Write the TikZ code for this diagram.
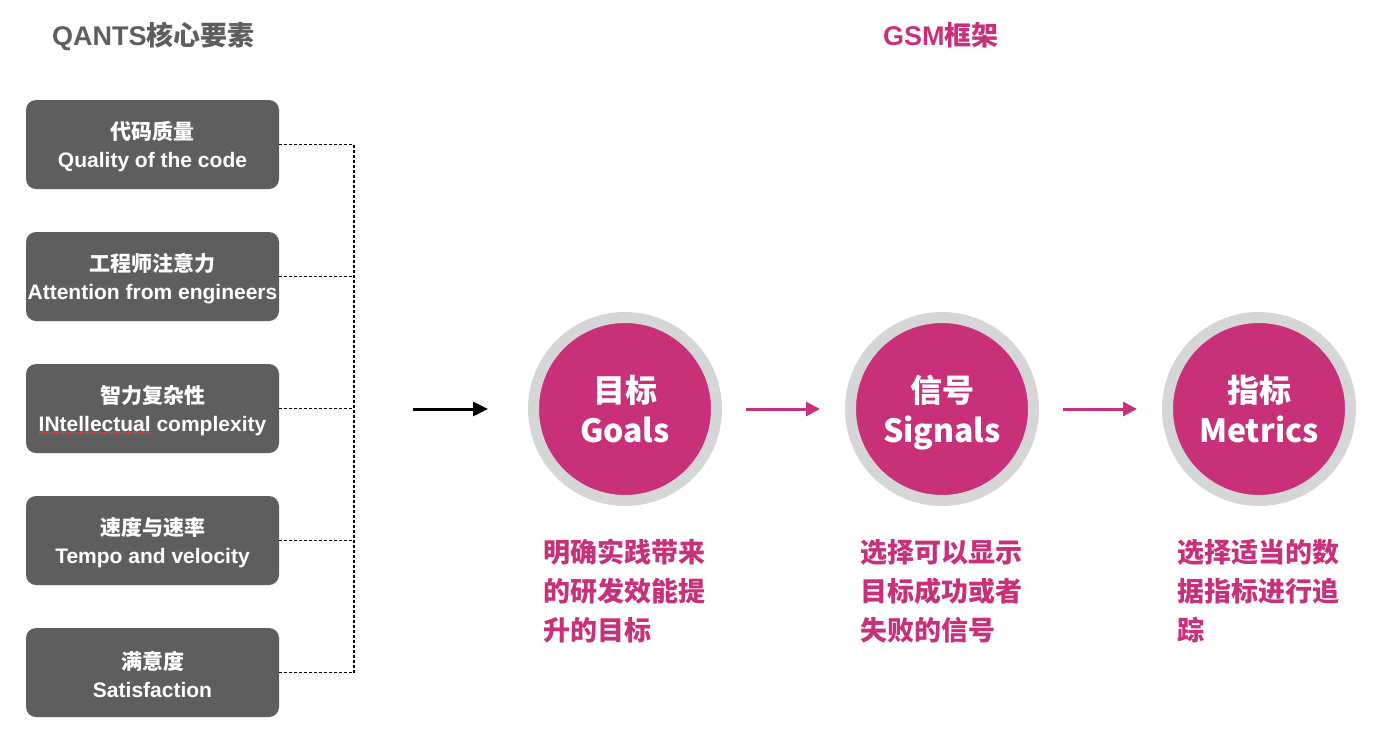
\documentclass[tikz,border=0pt]{standalone}
\usepackage{fontspec}
\setmainfont{Liberation Sans}
\newfontfamily\cjk{Noto Sans CJK SC}
\usetikzlibrary{arrows.meta}
\definecolor{boxgray}{HTML}{5E5E5E}
\definecolor{mag}{HTML}{C8307A}
\definecolor{ring}{HTML}{D6D6D6}
\definecolor{squig}{HTML}{E0403A}
\newcommand{\topstrut}{\rule{0pt}{22.5pt}}
\tikzset{
  qbox/.style={rounded corners=10pt, fill=boxgray, minimum width=253pt, minimum height=89pt,
    inner sep=0pt, text=white, align=center, font=\bfseries\fontsize{21}{28}\selectfont},
  dashline/.style={draw=black, line width=1.8pt, dash pattern=on 3pt off 2pt},
  gsm/.style={circle, draw=ring, line width=11pt, fill=mag, minimum size=183pt, inner sep=0pt,
    text=white, align=center, font=\cjk\bfseries\fontsize{32}{40}\selectfont},
  pinkarrow/.style={draw=mag, line width=3pt, -{Triangle[length=14pt,width=14pt]},
    shorten <=24pt, shorten >=25pt},
  blackarrow/.style={draw=black, line width=3pt, -{Triangle[length=15pt,width=14pt]}},
  desc/.style={anchor=north west, inner sep=0pt, text=mag, align=left,
    font=\cjk\bfseries\fontsize{27}{39}\selectfont},
  title/.style={anchor=base west, inner sep=0pt, font=\bfseries\fontsize{27}{30}\selectfont}
}
\begin{document}
\begin{tikzpicture}[x=1pt,y=-1pt]
\path[use as bounding box] (0,0) rectangle (1376,742);

\node[title, text=boxgray] (t1) at (52,45) {QANTS{\cjk 核心要素}};
\node[title, text=mag] (t2) at (883,45) {GSM{\cjk 框架}};

\node[qbox] (b1) at (152.5,144.5) {\topstrut{\cjk 代码质量}\\Quality of the code};
\node[qbox] (b2) at (152.5,276.5) {\topstrut{\cjk 工程师注意力}\\Attention from engineers};
\node[qbox] (b3) at (152.5,408.5) {\topstrut{\cjk 智力复杂性}\\INtellectual complexity};
\node[qbox] (b4) at (152.5,540.5) {\topstrut{\cjk 速度与速率}\\Tempo and velocity};
\node[qbox] (b5) at (152.5,672.5) {\topstrut{\cjk 满意度}\\Satisfaction};

\coordinate (u0) at (39,433);
\coordinate (u1) at (151,433);
\draw[squig, line width=1.2pt, dash pattern=on 1.2pt off 1.2pt] (u0) -- (u1);

\coordinate (j1) at (354,144.5);
\coordinate (j2) at (354,276.5);
\coordinate (j3) at (354,408.5);
\coordinate (j4) at (354,540.5);
\coordinate (j5) at (354,672.5);
\draw[dashline] (b1.east) -- (j1);
\draw[dashline] (b2.east) -- (j2);
\draw[dashline] (b3.east) -- (j3);
\draw[dashline] (b4.east) -- (j4);
\draw[dashline] (b5.east) -- (j5);
\draw[dashline] (j1) -- (j5);

\coordinate (a0) at (413,409);
\coordinate (a1) at (488,409);
\draw[blackarrow] (a0) -- (a1);

\node[gsm] (g) at (625,409) {目标\\Goals};
\node[gsm] (s) at (942,409) {信号\\Si\smash{g}nals};
\node[gsm] (m) at (1259,409) {指标\\Metrics};

\draw[pinkarrow] (g.east) -- (s.west);
\draw[pinkarrow] (s.east) -- (m.west);

\node[desc] (d1) at (543,539) {明确实践带来\\的研发效能提\\升的目标};
\node[desc] (d2) at (860,539) {选择可以显示\\目标成功或者\\失败的信号};
\node[desc] (d3) at (1177,539) {选择适当的数\\据指标进行追\\踪};
\end{tikzpicture}
\end{document}
